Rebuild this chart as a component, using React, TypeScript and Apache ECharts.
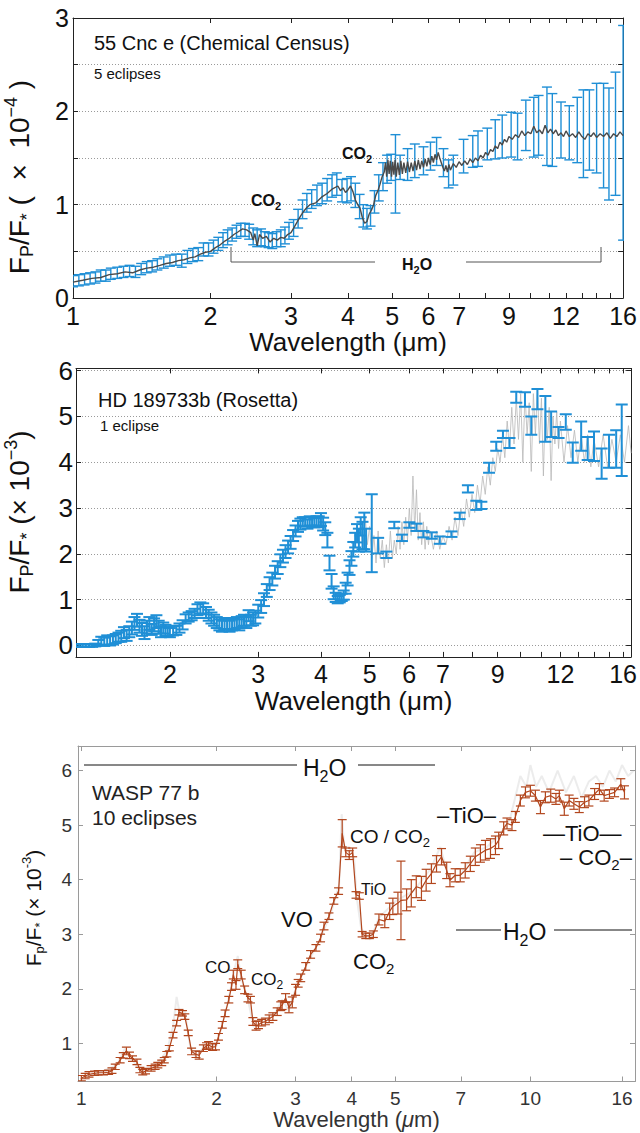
import React, { useEffect, useRef } from 'react';
import * as echarts from 'echarts';

const FONT = '"Liberation Sans", Arial, Helvetica, sans-serif';
const BLUE = '#1f8fd6';
const RUST = '#b2461d';

// ---------- Panel 1 : 55 Cnc e ----------
const p1Bars: number[][] = [
  [1.00,0.18,0.06],[1.03,0.19,0.06],[1.06,0.20,0.06],[1.09,0.21,0.06],[1.12,0.22,0.06],[1.15,0.24,0.06],
  [1.18,0.24,0.06],[1.21,0.26,0.06],[1.25,0.27,0.06],[1.29,0.28,0.06],[1.33,0.29,0.06],[1.37,0.28,0.06],
  [1.41,0.31,0.06],[1.45,0.33,0.06],[1.49,0.34,0.06],[1.53,0.36,0.06],[1.58,0.38,0.06],[1.63,0.40,0.06],
  [1.68,0.41,0.06],[1.73,0.40,0.07],[1.78,0.44,0.07],[1.83,0.46,0.07],[1.88,0.47,0.07],[1.93,0.52,0.07],
  [1.98,0.52,0.07],[2.03,0.55,0.07],[2.08,0.58,0.07],[2.13,0.62,0.08],[2.18,0.65,0.08],[2.23,0.68,0.07],
  [2.28,0.71,0.07],[2.33,0.73,0.07],[2.38,0.73,0.07],[2.43,0.71,0.08],[2.48,0.66,0.09],[2.53,0.64,0.09],
  [2.58,0.65,0.09],[2.63,0.63,0.08],[2.68,0.62,0.08],[2.73,0.61,0.08],[2.79,0.63,0.08],[2.85,0.64,0.09],
  [2.91,0.67,0.09],[2.97,0.72,0.09],[3.04,0.75,0.09],[3.11,0.85,0.10],[3.18,0.95,0.10],[3.25,1.02,0.10],
  [3.33,1.06,0.10],[3.42,1.10,0.11],[3.51,1.12,0.11],[3.60,1.16,0.12],[3.69,1.20,0.12],[3.78,1.22,0.12],
  [3.88,1.15,0.12],[3.98,1.15,0.13],[4.06,1.17,0.13],[4.15,1.10,0.13],[4.24,0.98,0.13],[4.32,0.88,0.12],
  [4.40,0.85,0.11],[4.48,0.88,0.11],[4.57,1.03,0.12],[4.67,1.18,0.14],[4.77,1.30,0.15],[4.87,1.38,0.15],
  [4.97,1.40,0.14],[5.08,1.33,0.42],[5.20,1.40,0.13],[5.40,1.43,0.17],[5.60,1.47,0.18],[5.85,1.47,0.15],
  [6.06,1.52,0.15],[6.25,1.57,0.15],[6.47,1.45,0.15],[6.64,1.33,0.15],[6.80,1.37,0.16],[7.16,1.52,0.18],
  [7.50,1.57,0.17],[7.70,1.60,0.19],[8.07,1.65,0.17],[8.40,1.70,0.21],[8.70,1.73,0.23],[9.10,1.75,0.24],
  [9.40,1.73,0.25],[9.80,1.85,0.27],[10.2,1.83,0.32],[10.45,1.85,0.32],[10.9,1.84,0.42],[11.2,1.80,0.39],
  [11.7,1.80,0.30],[12.2,1.77,0.29],[12.7,1.80,0.35],[13.1,1.76,0.47],[13.5,1.80,0.43],[14.0,1.82,0.48],
  [14.5,1.74,0.56],[14.9,1.65,0.60],[15.4,1.76,0.66],[16.0,1.77,1.15],
];
const p1Model: number[][] = [
  [1.0,0.17],[1.05,0.19],[1.1,0.21],[1.15,0.22],[1.2,0.25],[1.25,0.26],[1.3,0.28],[1.35,0.27],[1.4,0.30],
  [1.45,0.32],[1.5,0.33],[1.55,0.35],[1.6,0.37],[1.65,0.38],[1.7,0.40],[1.75,0.41],[1.8,0.43],[1.85,0.44],
  [1.9,0.47],[1.95,0.49],[2.0,0.50],[2.05,0.54],[2.1,0.57],[2.15,0.61],[2.2,0.64],[2.25,0.68],[2.3,0.71],
  [2.35,0.74],[2.4,0.73],[2.45,0.70],[2.48,0.62],[2.5,0.69],[2.53,0.56],[2.56,0.68],[2.6,0.64],[2.65,0.66],
  [2.7,0.60],[2.75,0.64],[2.8,0.62],[2.85,0.65],[2.9,0.64],[2.95,0.68],[3.0,0.70],[3.05,0.76],[3.1,0.82],
  [3.15,0.88],[3.2,0.93],[3.25,0.97],[3.3,1.00],[3.4,1.02],[3.5,1.08],[3.6,1.12],[3.7,1.17],[3.8,1.20],
  [3.85,1.15],[3.9,1.18],[3.95,1.13],[4.0,1.16],[4.05,1.20],[4.1,1.14],[4.15,1.05],[4.2,1.00],[4.25,0.96],
  [4.3,0.86],[4.35,0.80],[4.4,0.82],[4.45,0.90],[4.5,0.94],[4.55,1.00],[4.6,1.10],[4.65,1.15],[4.7,1.22],
  [4.75,1.30],[4.8,1.35],[4.83,1.45],[4.86,1.30],[4.89,1.48],[4.92,1.33],[4.95,1.47],[4.98,1.30],[5.01,1.46],
  [5.04,1.32],[5.07,1.48],[5.1,1.30],[5.14,1.45],[5.18,1.32],[5.22,1.47],[5.26,1.33],[5.3,1.45],[5.35,1.34],
  [5.4,1.46],[5.45,1.35],[5.5,1.45],[5.55,1.36],[5.6,1.47],[5.65,1.37],[5.7,1.48],[5.75,1.38],[5.8,1.47],
  [5.85,1.40],[5.9,1.49],[5.95,1.41],[6.0,1.50],[6.05,1.43],[6.1,1.52],[6.15,1.45],[6.2,1.54],[6.25,1.48],
  [6.3,1.56],[6.35,1.50],[6.4,1.45],[6.45,1.40],[6.5,1.36],[6.55,1.42],[6.6,1.35],[6.65,1.43],[6.7,1.37],
  [6.8,1.44],[6.9,1.40],[7.0,1.46],[7.1,1.42],[7.2,1.47],[7.3,1.43],[7.4,1.49],[7.5,1.45],[7.6,1.50],
  [7.7,1.47],[7.8,1.53],[7.9,1.50],[8.0,1.56],[8.1,1.53],[8.2,1.59],[8.3,1.57],[8.4,1.63],[8.5,1.60],
  [8.6,1.67],[8.7,1.64],[8.8,1.70],[8.9,1.67],[9.0,1.73],[9.15,1.70],[9.3,1.75],[9.45,1.72],[9.6,1.79],
  [9.75,1.74],[9.9,1.78],[10.05,1.76],[10.2,1.84],[10.35,1.77],[10.5,1.80],[10.65,1.76],[10.8,1.85],
  [10.95,1.77],[11.1,1.81],[11.25,1.76],[11.4,1.80],[11.55,1.74],[11.7,1.77],[11.85,1.73],[12.0,1.79],
  [12.2,1.73],[12.4,1.76],[12.6,1.72],[12.8,1.78],[13.0,1.73],[13.2,1.70],[13.4,1.76],[13.6,1.73],
  [13.8,1.77],[14.0,1.72],[14.25,1.76],[14.5,1.73],[14.75,1.77],[15.0,1.71],[15.25,1.76],[15.5,1.73],
  [15.75,1.78],[16.0,1.74],
];

// ---------- Panel 2 : HD 189733b ----------
const p2Bars: number[][] = [
  [1.30,0.00,0.03],[1.32,0.00,0.03],[1.34,0.00,0.03],[1.36,0.00,0.03],[1.38,0.00,0.03],[1.40,0.00,0.03],
  [1.42,0.01,0.03],[1.44,0.06,0.06],[1.46,0.10,0.09],[1.48,0.08,0.09],[1.50,0.12,0.10],[1.52,0.10,0.10],
  [1.54,0.12,0.10],[1.56,0.15,0.10],[1.58,0.18,0.10],[1.60,0.20,0.12],[1.62,0.28,0.12],[1.64,0.22,0.12],
  [1.66,0.30,0.12],[1.68,0.38,0.14],[1.70,0.48,0.14],[1.72,0.55,0.14],[1.74,0.42,0.14],[1.76,0.35,0.14],
  [1.78,0.28,0.14],[1.80,0.40,0.14],[1.82,0.48,0.14],[1.84,0.35,0.12],[1.86,0.45,0.14],[1.88,0.52,0.14],
  [1.90,0.40,0.14],[1.92,0.30,0.12],[1.94,0.38,0.12],[1.96,0.33,0.12],[1.98,0.30,0.10],[2.00,0.28,0.10],
  [2.03,0.32,0.10],[2.06,0.33,0.10],[2.09,0.38,0.10],[2.12,0.45,0.10],[2.15,0.58,0.10],[2.18,0.62,0.10],
  [2.21,0.65,0.10],[2.24,0.70,0.10],[2.27,0.78,0.12],[2.30,0.82,0.12],[2.33,0.80,0.12],[2.36,0.72,0.12],
  [2.39,0.66,0.12],[2.42,0.60,0.12],[2.45,0.55,0.12],[2.48,0.50,0.12],[2.51,0.45,0.12],[2.54,0.42,0.12],
  [2.57,0.46,0.12],[2.60,0.48,0.12],[2.63,0.42,0.12],[2.66,0.45,0.12],[2.69,0.48,0.12],[2.72,0.50,0.12],
  [2.75,0.45,0.12],[2.78,0.52,0.12],[2.81,0.55,0.12],[2.84,0.50,0.12],[2.87,0.65,0.12],[2.90,0.55,0.12],
  [2.93,0.58,0.14],[2.96,0.62,0.14],[3.00,0.75,0.14],[3.04,0.85,0.14],[3.08,1.00,0.14],[3.12,1.20,0.14],
  [3.16,1.35,0.14],[3.20,1.45,0.14],[3.24,1.60,0.14],[3.28,1.70,0.14],[3.32,1.85,0.14],[3.36,1.95,0.14],
  [3.40,2.05,0.14],[3.44,2.15,0.14],[3.48,2.25,0.14],[3.52,2.40,0.12],[3.56,2.50,0.12],[3.60,2.60,0.12],
  [3.64,2.65,0.12],[3.68,2.70,0.10],[3.72,2.70,0.10],[3.76,2.65,0.10],[3.80,2.72,0.10],[3.84,2.70,0.10],
  [3.88,2.68,0.10],[3.92,2.72,0.10],[3.96,2.70,0.12],[4.00,2.75,0.14],[4.04,2.65,0.14],[4.08,2.55,0.14],
  [4.12,2.30,0.16],[4.16,1.80,0.16],[4.20,1.40,0.16],[4.24,1.15,0.14],[4.28,1.05,0.10],[4.32,1.00,0.08],
  [4.36,1.02,0.08],[4.40,1.05,0.08],[4.44,1.10,0.10],[4.48,1.25,0.12],[4.52,1.45,0.14],[4.56,1.70,0.16],
  [4.60,1.90,0.16],[4.64,2.10,0.16],[4.68,2.30,0.16],[4.72,2.45,0.20],[4.76,2.30,0.25],[4.80,2.60,0.20],
  [4.84,2.40,0.30],[4.88,2.50,0.40],[4.92,2.30,0.25],[5.05,2.45,0.85],[5.20,2.18,0.17],[5.40,1.98,0.07],
  [5.60,2.63,0.07],[5.80,2.35,0.07],[6.00,2.63,0.06],[6.20,2.58,0.08],[6.40,2.43,0.07],[6.65,2.40,0.07],
  [6.90,2.30,0.08],[7.28,2.43,0.06],[7.56,2.83,0.07],[7.85,3.42,0.08],[8.16,3.06,0.10],[8.35,3.06,0.08],
  [8.65,3.88,0.11],[8.94,4.35,0.10],[9.22,4.61,0.08],[9.50,4.42,0.11],[9.80,5.42,0.12],[10.2,5.37,0.16],
  [10.5,4.80,0.20],[10.8,5.38,0.22],[11.2,4.95,0.50],[11.5,4.83,0.28],[11.9,4.65,0.12],[12.3,4.88,0.17],
  [12.7,4.21,0.22],[13.2,4.57,0.32],[13.6,4.30,0.25],[14.0,4.35,0.32],[14.5,3.97,0.33],[15.0,4.24,0.36],
  [15.5,4.29,0.41],[15.9,4.48,0.78],
];
const p2Model: number[][] = [
  [4.6,1.9],[4.7,2.3],[4.8,2.6],[4.85,2.1],[4.9,2.8],[4.95,2.2],[5.0,2.6],[5.05,1.9],[5.1,2.4],[5.15,1.8],
  [5.2,2.5],[5.25,1.9],[5.3,2.3],[5.35,1.7],[5.4,2.2],[5.45,1.8],[5.5,2.5],[5.55,1.9],[5.6,2.3],[5.65,2.0],
  [5.7,2.6],[5.75,2.1],[5.8,2.7],[5.85,2.2],[5.9,2.8],[5.95,2.3],[6.0,3.0],[6.05,2.4],[6.1,3.7],[6.15,2.5],
  [6.2,3.4],[6.25,2.3],[6.3,2.9],[6.35,2.2],[6.4,2.7],[6.45,2.1],[6.5,2.6],[6.55,2.2],[6.6,2.5],[6.7,2.1],
  [6.8,2.5],[6.9,2.1],[7.0,2.4],[7.1,2.2],[7.2,2.6],[7.3,2.3],[7.4,2.8],[7.5,2.4],[7.6,3.0],[7.7,2.6],
  [7.8,3.2],[7.9,2.8],[8.0,3.3],[8.1,2.9],[8.2,3.5],[8.3,3.1],[8.4,3.7],[8.5,3.3],[8.6,3.9],[8.7,3.5],
  [8.8,4.1],[8.9,3.8],[9.0,4.3],[9.1,4.0],[9.2,4.6],[9.3,4.1],[9.4,4.9],[9.5,4.3],[9.6,5.2],[9.7,4.4],
  [9.8,5.4],[9.9,4.5],[10.0,5.5],[10.1,4.0],[10.2,5.5],[10.3,4.6],[10.4,5.3],[10.5,3.8],[10.6,5.5],[10.7,4.6],
  [10.8,5.6],[10.9,4.4],[11.0,5.4],[11.1,3.7],[11.2,5.3],[11.3,4.5],[11.4,5.2],[11.5,3.6],[11.6,5.0],[11.7,4.4],
  [11.8,5.1],[11.9,4.3],[12.0,4.9],[12.2,4.0],[12.4,4.8],[12.6,4.1],[12.8,4.7],[13.0,4.0],[13.2,4.6],[13.4,4.0],
  [13.6,4.6],[13.8,3.9],[14.0,4.5],[14.3,3.9],[14.6,4.6],[14.9,3.9],[15.2,4.5],[15.5,4.0],[15.8,4.6],[16.1,4.0],
  [16.4,4.8],[16.6,4.2],
];

// ---------- Panel 3 : WASP 77 b ----------
const p3Bars: number[][] = [
  [1.00,0.36,0.05],[1.02,0.40,0.05],[1.04,0.43,0.05],[1.07,0.45,0.04],[1.09,0.46,0.04],[1.12,0.46,0.04],
  [1.15,0.47,0.04],[1.17,0.50,0.05],[1.19,0.57,0.05],[1.22,0.69,0.05],[1.24,0.78,0.05],[1.26,0.86,0.07],
  [1.28,0.78,0.06],[1.30,0.72,0.05],[1.33,0.66,0.05],[1.35,0.51,0.05],[1.37,0.47,0.05],[1.39,0.49,0.05],
  [1.43,0.54,0.05],[1.46,0.57,0.05],[1.48,0.60,0.05],[1.51,0.64,0.05],[1.53,0.69,0.05],[1.55,0.80,0.05],
  [1.57,0.91,0.05],[1.60,1.15,0.05],[1.63,1.37,0.05],[1.65,1.57,0.05],[1.68,1.55,0.05],[1.70,1.49,0.05],
  [1.73,1.19,0.05],[1.76,0.85,0.06],[1.80,0.80,0.06],[1.83,0.78,0.07],[1.87,0.91,0.06],[1.90,0.95,0.06],
  [1.92,0.97,0.06],[1.96,0.93,0.06],[1.99,0.94,0.06],[2.02,1.12,0.06],[2.06,1.34,0.06],[2.09,1.55,0.06],
  [2.13,1.80,0.06],[2.16,2.04,0.07],[2.18,2.26,0.08],[2.21,2.07,0.08],[2.23,2.45,0.08],[2.27,2.26,0.08],
  [2.31,1.98,0.07],[2.35,1.83,0.07],[2.38,1.80,0.06],[2.41,1.40,0.07],[2.45,1.32,0.08],[2.48,1.34,0.07],
  [2.52,1.38,0.06],[2.57,1.40,0.06],[2.62,1.45,0.07],[2.67,1.49,0.07],[2.73,1.58,0.07],[2.78,1.68,0.08],
  [2.80,1.70,0.08],[2.85,1.83,0.08],[2.90,1.66,0.10],[2.95,1.75,0.10],[3.00,1.98,0.10],[3.04,2.10,0.07],
  [3.08,2.20,0.07],[3.16,2.41,0.07],[3.24,2.63,0.07],[3.33,2.75,0.06],[3.41,2.93,0.07],[3.47,3.15,0.07],
  [3.56,3.33,0.06],[3.65,3.61,0.06],[3.74,3.79,0.06],[3.81,4.85,0.25],[3.88,4.50,0.08],[3.95,4.45,0.08],
  [4.02,4.50,0.08],[4.09,3.72,0.06],[4.16,3.70,0.06],[4.22,3.00,0.05],[4.30,2.97,0.05],[4.38,2.97,0.05],
  [4.47,3.00,0.06],[4.60,3.27,0.10],[4.74,3.24,0.12],[4.86,3.42,0.15],[4.94,3.51,0.15],[5.07,3.57,0.20],
  [5.15,3.62,0.72],[5.30,3.63,0.20],[5.43,3.75,0.25],[5.57,3.87,0.20],[5.72,3.84,0.22],[5.86,3.99,0.20],
  [6.02,4.11,0.18],[6.18,4.29,0.15],[6.34,4.42,0.15],[6.51,4.17,0.15],[6.62,3.99,0.12],[6.80,4.08,0.12],
  [6.98,4.08,0.12],[7.16,4.17,0.14],[7.35,4.29,0.14],[7.54,4.42,0.16],[7.74,4.48,0.16],[7.94,4.54,0.18],
  [8.15,4.57,0.18],[8.36,4.63,0.17],[8.50,4.72,0.15],[8.72,4.94,0.12],[8.87,5.03,0.10],[9.10,5.00,0.10],
  [9.26,5.15,0.10],[9.50,5.45,0.10],[9.75,5.60,0.10],[10.0,5.63,0.10],[10.26,5.54,0.10],[10.53,5.33,0.12],
  [10.8,5.51,0.10],[11.1,5.54,0.12],[11.4,5.48,0.10],[11.6,5.54,0.10],[11.9,5.30,0.12],[12.2,5.45,0.10],
  [12.5,5.39,0.10],[12.85,5.33,0.10],[13.2,5.42,0.10],[13.5,5.45,0.10],[13.9,5.57,0.10],[14.25,5.66,0.10],
  [14.6,5.54,0.10],[15.0,5.57,0.08],[15.4,5.60,0.08],[15.9,5.75,0.10],[16.2,5.60,0.12],
];
const p3Model: number[][] = [
  [1.0,0.35],[1.1,0.47],[1.2,0.6],[1.25,0.9],[1.3,0.7],[1.35,0.5],[1.45,0.56],[1.55,0.85],[1.6,1.3],[1.63,1.85],
  [1.66,1.5],[1.7,1.6],[1.75,0.9],[1.8,0.75],[1.9,1.0],[2.0,0.95],[2.1,1.6],[2.15,2.0],[2.2,2.4],[2.23,2.6],
  [2.27,2.2],[2.35,1.8],[2.42,1.3],[2.5,1.35],[2.6,1.45],[2.7,1.55],[2.8,1.8],[2.9,1.6],[3.0,2.0],[3.2,2.5],
  [3.4,2.9],[3.6,3.4],[3.75,3.9],[3.8,5.2],[3.85,4.6],[3.95,4.6],[4.05,4.4],[4.1,3.7],[4.2,3.1],[4.4,2.9],
  [4.6,3.3],[5.0,3.6],[5.5,3.8],[6.0,4.2],[6.3,4.6],[6.6,4.0],[7.0,4.1],[7.5,4.5],[8.0,4.6],[8.5,4.8],
  [9.0,5.1],[9.5,5.9],[9.8,5.7],[10.0,6.1],[10.3,5.7],[10.6,5.9],[11.0,5.6],[11.5,6.0],[12.0,5.6],[12.5,5.9],
  [13.0,5.5],[13.5,5.8],[14.0,5.9],[14.5,5.7],[15.0,6.0],[15.5,5.8],[16.0,6.1],[16.5,5.9],[17.0,6.0],
];

// ---------- Ticks ----------
const p1XTicks = [1,2,3,4,5,6,7,8,9,10,11,12,13,14,15,16];
const p1XLabels = [1,2,3,4,5,6,7,9,12,16];
const p2XTicks = [2,3,4,5,6,7,8,9,10,11,12,13,14,15,16];
const p2XLabels = [2,3,4,5,6,7,9,12,16];
const p3XTicks = [1,2,3,4,5,7,10,16];
const p3XLabels = [1,2,3,4,5,7,10,16];
const p1YTicks = [0,0.5,1,1.5,2,2.5,3];
const p1YLabels = [0,1,2,3];
const p2YTicks = [0,1,2,3,4,5,6];
const p3YTicks = [1,2,3,4,5,6];

const errorBars = (xi: number, yi: number, data: number[][], color: string, cap: number, width: number, z: number) => ({
  type: 'custom', xAxisIndex: xi, yAxisIndex: yi, data, z, clip: true,
  encode: { x: 0, y: 1 },
  renderItem: (params: any, api: any) => {
    const x = api.value(0), y = api.value(1), e = api.value(2);
    const t = api.coord([x, y + e]);
    const b = api.coord([x, y - e]);
    const st = { stroke: color, lineWidth: width };
    return {
      type: 'group',
      children: [
        { type: 'line', shape: { x1: t[0], y1: t[1], x2: b[0], y2: b[1] }, style: st },
        { type: 'line', shape: { x1: t[0] - cap, y1: t[1], x2: t[0] + cap, y2: t[1] }, style: st },
        { type: 'line', shape: { x1: b[0] - cap, y1: b[1], x2: b[0] + cap, y2: b[1] }, style: st },
      ],
    };
  },
});

function xAxes(g: number, min: number, max: number, ticks: number[], labels: number[], o: any) {
  const line = { show: true, onZero: false, lineStyle: { color: o.frame, width: 1 } };
  const tick = { show: true, inside: true, length: 5, customValues: ticks, lineStyle: { color: o.frame } };
  return [
    {
      type: 'log', logBase: 10, gridIndex: g, min, max, position: 'bottom',
      axisLine: line, axisTick: tick, splitLine: { show: false },
      axisLabel: { customValues: labels, formatter: (v: number) => String(Math.round(v)), fontSize: o.tickSize,
        color: o.text, fontFamily: FONT, margin: o.labelMargin },
      name: o.xName, nameLocation: 'middle', nameGap: o.xNameGap,
      nameTextStyle: { rich: o.xRich },
    },
    {
      type: 'log', logBase: 10, gridIndex: g, min, max, position: 'top',
      axisLine: line, axisTick: tick, splitLine: { show: false }, axisLabel: { show: false },
    },
  ];
}

function yAxes(g: number, min: number, max: number, ticks: number[], labels: number[], o: any) {
  const line = { show: true, onZero: false, lineStyle: { color: o.frame, width: 1 } };
  const tick = { show: true, inside: true, length: 5, customValues: ticks, lineStyle: { color: o.frame } };
  return [
    {
      type: 'value', gridIndex: g, min, max, position: 'left',
      axisLine: line, axisTick: tick,
      splitLine: { show: o.grid, lineStyle: { color: '#9a9a9a', type: [1, 2], width: 1 } },
      axisLabel: { customValues: labels, fontSize: o.yTickSize, color: o.text, fontFamily: FONT, margin: o.yLabelMargin },
    },
    {
      type: 'value', gridIndex: g, min, max, position: 'right',
      axisLine: line, axisTick: tick, splitLine: { show: false }, axisLabel: { show: false },
    },
  ];
}

function sciRich(size: number, color: string) {
  const s = Math.round(size * 0.64);
  return {
    m: { fontSize: size, fontFamily: FONT, color },
    i: { fontSize: size, fontFamily: FONT, color, fontStyle: 'italic' },
    s: { fontSize: s, fontFamily: FONT, color, padding: [Math.round(size * 0.55), 0, 0, 0] },
    p: { fontSize: s, fontFamily: FONT, color, padding: [0, 0, Math.round(size * 0.6), 0] },
  };
}

function txt(x: number, y: number, text: string, rich: any, fontSize: number, extra: any = {}) {
  return {
    type: 'text', x, y, z: 50, rotation: extra.rotation || 0,
    style: { text, rich, fontSize, fontFamily: FONT, fill: extra.fill || '#111', verticalAlign: 'middle',
      align: extra.align || 'left', fontWeight: extra.fontWeight || 'normal' },
  };
}
function poly(points: number[][], color: string, w = 1) {
  return { type: 'polyline', z: 50, shape: { points }, style: { stroke: color, lineWidth: w, fill: null } };
}
function chem(size: number, weight: string, color: string) {
  return {
    a: { fontSize: size, fontFamily: FONT, fontWeight: weight, color },
    b: { fontSize: Math.round(size * 0.68), fontFamily: FONT, fontWeight: weight, color, padding: [Math.round(size * 0.7), 0, 0, 0] },
  };
}

export default function App() {
  const ref = useRef<HTMLDivElement>(null);
  useEffect(() => {
    document.body.style.margin = '0';
    const chart = echarts.init(ref.current!, null, { renderer: 'svg' });
    const o1 = {
      frame: '#222', text: '#111', tickSize: 25, yTickSize: 25, labelMargin: 5, xNameGap: 29,
      xName: '{m|Wavelength (μm)}', xRich: sciRich(26, '#111'), grid: true, yLabelMargin: 4,
    };
    const o2 = { ...o1, tickSize: 25, yTickSize: 26, labelMargin: 5, xNameGap: 25, yLabelMargin: 3 };
    const o3 = {
      frame: '#9a9a9a', text: '#333', tickSize: 19, yTickSize: 19, labelMargin: 7, xNameGap: 27,
      xName: '{m|Wavelength (}{i|μ}{m|m)}', xRich: sciRich(22, '#333'), grid: false, yLabelMargin: 6,
    };
    const c16b = chem(16, 'bold', '#111');
    const c16 = chem(19, 'normal', '#111');
    const c17 = chem(17, 'normal', '#111');
    const c22 = chem(22, 'normal', '#111');
    const c23 = chem(23, 'normal', '#111');
    chart.setOption({
      animation: false,
      backgroundColor: '#fff',
      grid: [
        { left: 73, top: 18, width: 551, height: 280 },
        { left: 76, top: 368.4, width: 556, height: 288.5 },
        { left: 78, top: 746, width: 557, height: 335.5 },
      ],
      xAxis: [
        ...xAxes(0, 1, 16, p1XTicks, p1XLabels, o1),
        ...xAxes(1, 1.3, 16.6, p2XTicks, p2XLabels, o2),
        ...xAxes(2, 0.983, 17.1, p3XTicks, p3XLabels, o3),
      ],
      yAxis: [
        ...yAxes(0, 0, 3, p1YTicks, p1YLabels, o1),
        ...yAxes(1, -0.25, 6.05, p2YTicks, p2YTicks, o2),
        ...yAxes(2, 0.3, 6.45, p3YTicks, p3YTicks, o3),
      ],
      series: [
        errorBars(0, 0, p1Bars, BLUE, 5, 1.4, 2),
        { type: 'line', xAxisIndex: 0, yAxisIndex: 0, data: p1Model, showSymbol: false, z: 3,
          lineStyle: { color: '#4a4a4a', width: 1.4 } },
        { type: 'line', xAxisIndex: 2, yAxisIndex: 2, data: p2Model, showSymbol: false, z: 1,
          lineStyle: { color: '#b8b8b8', width: 0.8 } },
        errorBars(2, 2, p2Bars, BLUE, 6, 2, 2),
        { type: 'line', xAxisIndex: 4, yAxisIndex: 4, data: p3Model, showSymbol: false, z: 1,
          lineStyle: { color: 'rgba(170,170,170,0.22)', width: 2 } },
        { type: 'line', xAxisIndex: 4, yAxisIndex: 4, data: p3Bars.map(d => [d[0], d[1]]), showSymbol: false, z: 2,
          lineStyle: { color: RUST, width: 1.2 } },
        errorBars(4, 4, p3Bars, RUST, 4.5, 1.2, 3),
      ],
      graphic: [
        // y-axis titles
        txt(19, 177, '{m|F}{s|P}{m|/F}{s|*}{m| (  ×  10}{p|−4}{m| )}', sciRich(28, '#111'), 28, { rotation: Math.PI / 2, align: 'center' }),
        txt(19, 512, '{m|F}{s|P}{m|/F}{s|*}{m| (× 10}{p|−3}{m|)}', sciRich(28, '#111'), 28, { rotation: Math.PI / 2, align: 'center' }),
        txt(33, 908, '{m|F}{s|p}{m|/F}{s|*}{m| (× 10}{p|-3}{m|)}', sciRich(21, '#333'), 21, { rotation: Math.PI / 2, align: 'center' }),
        // panel 1
        txt(94, 43, '55 Cnc e (Chemical Census)', undefined, 20),
        txt(94, 73, '5 eclipses', undefined, 15),
        txt(251, 200, '{a|CO}{b|2}', c16b, 16),
        txt(342, 153, '{a|CO}{b|2}', c16b, 16),
        txt(402, 264, '{a|H}{b|2}{a|O}', c16b, 16),
        poly([[231, 247], [231, 262], [375, 262]], '#555'),
        poly([[466, 262], [601, 262], [601, 247]], '#555'),
        // panel 2
        txt(98, 400, 'HD 189733b (Rosetta)', undefined, 20),
        txt(100, 425, '1 eclipse', undefined, 15),
        // panel 3
        poly([[84, 765], [297, 765]], '#111'),
        txt(303, 768, '{a|H}{b|2}{a|O}', c23, 23),
        poly([[358, 765], [435, 765]], '#111'),
        txt(92, 792, 'WASP 77 b', undefined, 21, { fill: '#222' }),
        txt(92, 817, '10 eclipses', undefined, 21, { fill: '#222' }),
        txt(350, 836, '{a|CO / CO}{b|2}', c16, 19),
        txt(361, 889, 'TiO', undefined, 16),
        txt(281, 919, 'VO', undefined, 22),
        txt(353, 961, '{a|CO}{b|2}', c22, 22),
        txt(205, 967, 'CO', undefined, 17),
        txt(251, 979, '{a|CO}{b|2}', c17, 17),
        txt(437, 815, '–TiO–', undefined, 22),
        txt(543, 833, '—TiO—', undefined, 22),
        txt(560, 857, '{a|– CO}{b|2}{a|–}', c22, 22),
        poly([[456, 930], [501, 930]], '#111'),
        txt(503, 932, '{a|H}{b|2}{a|O}', c23, 23),
        poly([[554, 930], [632, 930]], '#111'),
      ],
    });
    return () => chart.dispose();
  }, []);
  return <div ref={ref} style={{ width: 640, height: 1133 }} />;
}
